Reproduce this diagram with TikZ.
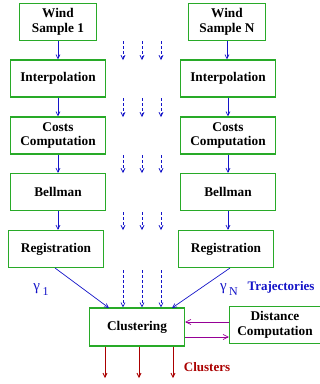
\documentclass[tikz,border=0pt]{standalone}
\usepackage{fontspec}
\setmainfont{Liberation Serif}
\usetikzlibrary{arrows.meta}
\definecolor{boxgreen}{RGB}{40,170,40}
\definecolor{flowblue}{RGB}{20,20,200}
\definecolor{clusred}{RGB}{170,0,0}
\definecolor{distpurple}{RGB}{150,0,150}
\begin{document}
\begin{tikzpicture}[x=1pt,y=-1pt,
    stage/.style={draw=boxgreen, line width=1.2pt, minimum width=95pt, minimum height=37pt,
                  align=center, font=\fontsize{13.3}{14.7}\selectfont\bfseries, inner sep=1pt},
    flow/.style={flowblue, line width=0.7pt, -{Straight Barb[length=4pt,width=4pt]}},
    others/.style={flow, dashed, dash pattern=on 3pt off 2pt},
    lbl/.style={font=\fontsize{13}{14}\selectfont\bfseries}]
    \useasboundingbox (0,0) rectangle (320,384);

    % Sample 1 chain
    \node[stage, minimum width=77pt] (ws1) at (58,22) {Wind\\Sample 1};
    \node[stage] (int1) at (58,78.5) {Interpolation};
    \node[stage] (cost1) at (58,135.5) {Costs\\Computation};
    \node[stage] (bell1) at (58,192) {Bellman};
    \node[stage] (reg1) at (56,249) {Registration};

    % Sample N chain
    \node[stage, minimum width=77pt] (wsN) at (227,22) {Wind\\Sample N};
    \node[stage] (intN) at (228,78.5) {Interpolation};
    \node[stage] (costN) at (228,135.5) {Costs\\Computation};
    \node[stage] (bellN) at (228,192) {Bellman};
    \node[stage] (regN) at (226,249) {Registration};

    % Clustering and distance
    \node[stage, minimum height=38pt] (clus) at (137,327) {Clustering};
    \node[stage, minimum width=91pt] (dist) at (275,325) {Distance\\Computation};

    \draw[flow] (ws1) -- (ws1 |- int1.north);
    \draw[flow] (int1) -- (cost1);
    \draw[flow] (cost1) -- (bell1);
    \draw[flow] (bell1) -- (bell1 |- reg1.north);
    \draw[flow] (wsN) -- (wsN |- intN.north);
    \draw[flow] (intN) -- (costN);
    \draw[flow] (costN) -- (bellN);
    \draw[flow] (bellN) -- (bellN |- regN.north);

    % the samples in between
    \foreach \xx in {123,142,161}{
      \foreach \ya/\yb in {41/60, 98/117, 155/173, 212/230}{
        \coordinate (top) at (\xx,\ya);
        \coordinate (bot) at (\xx,\yb);
        \draw[others] (top) -- (bot);
      }
      \coordinate (top) at (\xx,270);
      \draw[others] (top) -- (top |- clus.north);
    }

    % trajectories
    \coordinate (g1) at (55,268);
    \coordinate (c1) at (109,308);
    \coordinate (gN) at (230,268);
    \coordinate (cN) at (172,308);
    \draw[flow] (g1) -- (c1);
    \draw[flow] (gN) -- (cN);
    \node[flowblue, font=\fontsize{15}{16}\selectfont] (gam1) at (41,290) {γ\,\raisebox{-5pt}{\fontsize{12}{12}\selectfont 1}};
    \node[flowblue, font=\fontsize{15}{16}\selectfont] (gamN) at (229,290) {γ\,\raisebox{-5pt}{\fontsize{12}{12}\selectfont N}};
    \node[flowblue, lbl] (traj) at (281,287) {Trajectories};

    % distance exchange
    \draw[distpurple, line width=0.7pt, -{Straight Barb[length=5pt,width=5pt]}] ([yshift=-10pt]clus.east) -- ([yshift=-10pt]clus.east -| dist.west);
    \draw[distpurple, line width=0.7pt, -{Straight Barb[length=5pt,width=5pt]}] ([yshift=5pt]clus.east -| dist.west) -- ([yshift=5pt]clus.east);

    % clusters out
    \foreach \xx in {105,139,173}{
      \coordinate (out) at (\xx,378);
      \draw[clusred, line width=0.8pt, -{Straight Barb[length=4pt,width=4pt]}] (out |- clus.south) -- (out);
    }
    \node[clusred, lbl] (clusters) at (207,367) {Clusters};
\end{tikzpicture}
\end{document}
